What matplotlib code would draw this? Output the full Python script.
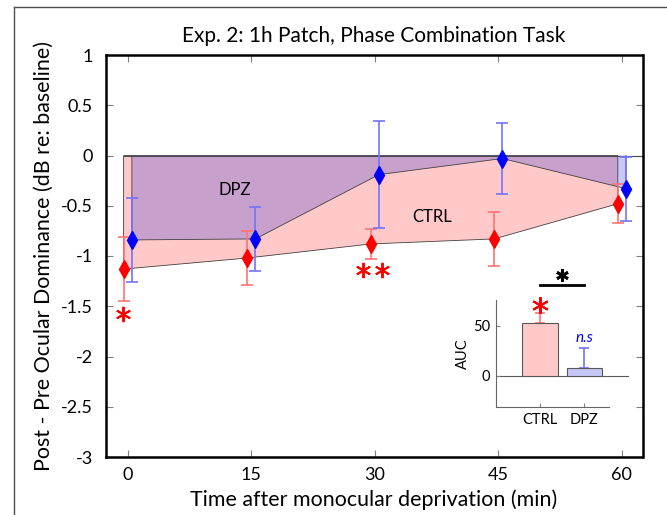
import numpy as np
import matplotlib
matplotlib.use("Agg")
import matplotlib.pyplot as plt
from matplotlib.lines import Line2D

plt.rcParams['font.family'] = ['Lato', 'DejaVu Sans']

# data
time = np.array([0, 15, 30, 45, 60])
ctrl_mean = np.array([-1.13, -1.02, -0.88, -0.83, -0.48])
ctrl_sem = np.array([0.32, 0.27, 0.145, 0.27, 0.195])
dpz_mean = np.array([-0.84, -0.83, -0.19, -0.03, -0.33])
dpz_sem = np.array([0.415, 0.32, 0.535, 0.35, 0.32])

auc_labels = ['CTRL', 'DPZ']
auc_mean = [52.5, 8.3]
auc_err = [10.2, 19.0]

x_ticks = [0, 15, 30, 45, 60]
y_ticks = [1, 0.5, 0, -0.5, -1, -1.5, -2, -2.5, -3]

pink = (1.0, 0.79, 0.79)
lav = (0.78, 0.78, 0.96)
dpz_fill = (0.18, 0.18, 0.84)
red_err = (1.0, 0.45, 0.45)
blue_err = (0.45, 0.45, 1.0)

fig = plt.figure(figsize=(6.67, 5.15), dpi=100)
ax = fig.add_axes([105.5 / 667, 1 - 457 / 515, 537 / 667, 402 / 515])

xr = time - 0.5
xb = time + 0.5

# shaded areas between zero and each curve
ax.fill(np.r_[xr[0], xr, xr[-1]], np.r_[0, ctrl_mean, 0], facecolor=pink,
        edgecolor='0.25', linewidth=0.6, zorder=1)
ax.fill(np.r_[xb[0], xb, xb[-1]], np.r_[0, dpz_mean, 0], facecolor=dpz_fill,
        alpha=0.26, edgecolor='none', zorder=2)
ax.plot(np.r_[xb[0], xb, xb[-1]], np.r_[0, dpz_mean, 0], color='0.25',
        linewidth=0.6, zorder=2)
ax.plot([xr[0], 62.5], [0, 0], color='0.3', linewidth=0.8, zorder=2)

ax.errorbar(xr, ctrl_mean, yerr=ctrl_sem, fmt='none', ecolor=red_err,
            elinewidth=1.2, capsize=4, capthick=1.2, zorder=3)
ax.errorbar(xb, dpz_mean, yerr=dpz_sem, fmt='none', ecolor=blue_err,
            elinewidth=1.2, capsize=4, capthick=1.2, zorder=3)
ax.plot(xr, ctrl_mean, 'd', color='red', markersize=9, zorder=4)
ax.plot(xb, dpz_mean, 'd', color='blue', markersize=9, zorder=4)

# significance stars
star = (6, 2, 0)
ax.plot(xr[0] - 0.1, ctrl_mean[0] - ctrl_sem[0] - 0.13, marker=star, color='red',
        markersize=11, mew=1.4, linestyle='none', zorder=5)
ax.plot([xr[2] - 0.9, xr[2] + 1.4], [ctrl_mean[2] - ctrl_sem[2] - 0.11] * 2,
        marker=star, color='red', markersize=11, mew=1.4, linestyle='none', zorder=5)

ax.text(13, -0.34, 'DPZ', fontsize=12, ha='center', va='center')
ax.text(37, -0.61, 'CTRL', fontsize=12, ha='center', va='center')

ax.set_xlim(-2.7, 62.5)
ax.set_ylim(-3, 1)
ax.set_xticks(x_ticks)
ax.set_yticks(y_ticks)
ax.set_yticklabels(['1', '0.5', '0', '-0.5', '-1', '-1.5', '-2', '-2.5', '-3'])
ax.tick_params(direction='in', top=True, right=True, length=5, width=0.8,
               labelsize=13, color='0.5')
ax.tick_params(axis='x', pad=7)
ax.tick_params(axis='y', pad=9)
for s in ax.spines.values():
    s.set_linewidth(1.8)
ax.set_title('Exp. 2: 1h Patch, Phase Combination Task', fontsize=15, pad=9)
ax.set_xlabel('Time after monocular deprivation (min)', fontsize=15.4, labelpad=5)
ax.set_ylabel('Post - Pre Ocular Dominance (dB re: baseline)', fontsize=15.4, labelpad=5)

# inset with area under curve
ins = fig.add_axes([495.7 / 667, 1 - 407 / 515, 133 / 667, 107 / 515])
ins.patch.set_alpha(0)
bx = np.arange(1, len(auc_labels) + 1)
ins.bar(bx, auc_mean, width=0.8, color=[pink, lav],
        edgecolor='0.35', linewidth=0.8, zorder=2)
for xi, m, e, c in zip(bx, auc_mean, auc_err, [red_err, blue_err]):
    ins.errorbar(xi, m, yerr=[[0], [e]], fmt='none', ecolor=c,
                 elinewidth=1.2, capsize=3.5, capthick=1.2, zorder=1)
ins.axhline(0, color='0.35', linewidth=0.8, zorder=1)
ins.set_xlim(0, 3)
ins.set_ylim(-31, 75.5)
ins.set_xticks(bx)
ins.set_xticklabels(auc_labels)
ins.set_yticks([0, 50])
ins.spines['top'].set_visible(False)
ins.spines['right'].set_visible(False)
for s in ['left', 'bottom']:
    ins.spines[s].set_linewidth(0.8)
    ins.spines[s].set_color('0.4')
ins.spines['bottom'].set_bounds(0, 2.55)
ins.tick_params(direction='in', length=3, labelsize=10.5, color='0.5', pad=4)
ins.set_ylabel('AUC', fontsize=10.5, labelpad=2)

ins.plot(bx[0], auc_mean[0] + auc_err[0] + 8, marker=star, color='red',
         markersize=12, mew=1.5, linestyle='none', clip_on=False)
ins.text(bx[1], auc_mean[1] + auc_err[1] + 3, 'n.s', color='blue', fontsize=11,
         style='italic', ha='center', va='bottom')
ins.plot(bx, [90, 90], color='black', linewidth=2, clip_on=False)
ins.plot(np.mean(bx), 100, marker=star, color='black', markersize=9, mew=2,
         linestyle='none', clip_on=False)

# screenshot frame
fig.add_artist(Line2D([14 / 667, 14 / 667], [0, 1 - 7 / 515], color='0.3', linewidth=1))
fig.add_artist(Line2D([14 / 667, 1], [1 - 7 / 515, 1 - 7 / 515], color='0.3', linewidth=1))

fig.savefig('out.png', dpi=100)
